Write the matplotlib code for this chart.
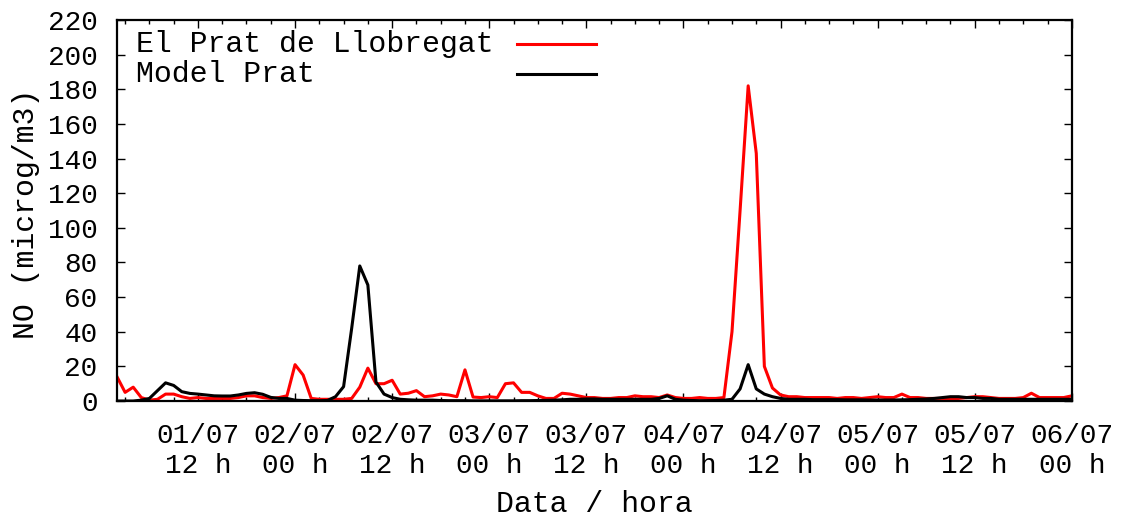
import numpy as np
import matplotlib
matplotlib.use('Agg')
import matplotlib.pyplot as plt
import matplotlib.dates as mdates

plt.rcParams['font.family'] = ['Liberation Mono', 'DejaVu Sans Mono']

# hourly series, 01/07 02h -> 06/07 00h
start = np.datetime64('2014-07-01T02:00')
hores = start + np.arange(119) * np.timedelta64(1, 'h')

# NO observed at El Prat de Llobregat (microg/m3)
prat_obs = [14, 5, 8, 2, 0.5, 1, 4, 4, 2.5, 1.5, 2, 1.5, 1.5, 1.5, 1.5, 2, 3, 3, 2, 1.5,
            2, 3, 21, 15, 1.5, 1, 1, 1, 1, 1.5, 8, 19, 10, 10, 12, 4, 4.5, 6, 2.5, 3,
            4, 3.5, 2.5, 18, 2.3, 2, 2.5, 2, 10, 10.5, 5, 5, 3, 1.5, 1.5, 4.5, 4, 3, 2, 2,
            1.5, 1.5, 2, 2, 3, 2.5, 2.5, 2, 3.5, 2, 1.5, 1.5, 2, 1.5, 1.5, 2, 40, 110, 182, 143,
            20, 7.5, 3.5, 2.5, 2.5, 2, 2, 2, 2, 1.5, 2, 2, 1.5, 2, 2.5, 2, 2, 4, 2, 2,
            1.5, 1.5, 1.5, 1, 1.5, 2, 2.5, 2.5, 2, 1.5, 1.5, 1.5, 2, 4.5, 2, 2, 2, 2, 3]

# NO from the model at the same point
prat_model = [0, 0, 0, 0.5, 1.5, 6, 10.5, 9, 5.4, 4.4, 4, 3.5, 3, 2.9, 2.9, 3.5, 4.4, 4.8, 3.9, 2.1,
              1.5, 1.5, 0.5, 0.3, 0.2, 0.2, 0.3, 2.5, 8.3, 42, 78, 67, 11, 4, 2, 1, 0.7, 0.5, 0.5, 0.5,
              0.3, 0.2, 0.2, 0.2, 0.1, 0.1, 0.1, 0.1, 0.1, 0.1, 0.2, 0.2, 0.3, 0.4, 0.5, 0.7, 1, 1, 1.2, 1.2,
              1, 1, 1, 1, 1, 1, 1, 1.5, 3, 1, 0.5, 0.3, 0.2, 0.2, 0.3, 0.5, 1, 7, 21, 7,
              4, 2.5, 1.5, 1, 1, 1, 0.8, 0.8, 0.8, 0.8, 0.7, 0.7, 0.7, 0.6, 0.6, 0.6, 0.6, 0.7, 0.8, 1,
              1.2, 1.5, 2, 2.5, 2.5, 2, 2, 1.5, 1.5, 1, 1, 1, 1, 1, 1, 1, 1, 1, 1]

etiquetes = ['El Prat de Llobregat', 'Model Prat']
colors = ['#ff0000', '#000000']

fs_tick = 20
fs_text = 21.5
fig = plt.figure(figsize=(11.22, 5.2), dpi=100)
ax = fig.add_axes([0.1043, 0.2288, 0.851, 0.7327])

ax.plot(hores, prat_obs, color=colors[0], lw=2.2)
ax.plot(hores, prat_model, color=colors[1], lw=2.2)

ax.set_xlim(hores[0], hores[-1])
ax.set_ylim(0, 220)
ax.set_yticks(np.arange(0, 221, 20))

ax.xaxis.set_major_locator(mdates.HourLocator(byhour=[0, 12]))
ax.xaxis.set_minor_locator(mdates.HourLocator(byhour=range(0, 24, 3)))
ax.xaxis.set_major_formatter(mdates.DateFormatter('%d/%m\n%H h'))

ax.tick_params(which='both', direction='in', top=True, right=True, width=1, color='black')
ax.tick_params(which='major', length=6, labelsize=fs_tick)
ax.tick_params(which='minor', length=3)
ax.tick_params(axis='y', pad=14)
ax.tick_params(axis='x', pad=16)
for sp in ax.spines.values():
    sp.set_linewidth(1.6)

ax.set_xlabel('Data / hora', fontsize=fs_text, va='center')
ax.xaxis.set_label_coords(0.5, -0.27)
ax.set_ylabel('NO (microg/m3)', fontsize=fs_text)
ax.yaxis.set_label_coords(-0.081, 0.49)

# key: text on the left, line sample on the right
for k, (lab, c) in enumerate(zip(etiquetes, colors)):
    yk = 0.937 - k * 0.079
    ax.text(0.02, yk, lab, transform=ax.transAxes, fontsize=fs_text, va='center', ha='left')
    ax.plot([0.419, 0.5016], [yk, yk], transform=ax.transAxes, color=c, lw=2.2)

fig.savefig('out.png', dpi=100)
